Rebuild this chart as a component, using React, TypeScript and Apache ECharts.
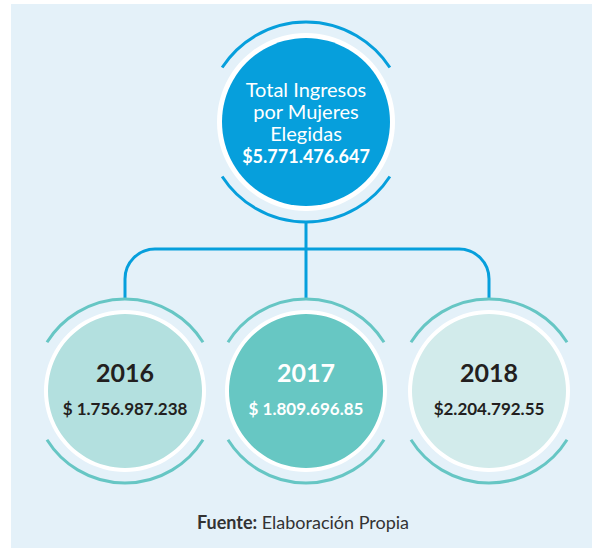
import React, { useEffect, useRef } from "react";
import * as echarts from "echarts";

const titleLines = ["Total Ingresos", "por Mujeres", "Elegidas"];
const totalLabel = "$5.771.476.647";
const years = ["2016", "2017", "2018"];
const yearValues = ["$ 1.756.987.238", "$ 1.809.696.85", "$2.204.792.55"];
const yearFills = ["#b3e0df", "#67c7c3", "#d2ebeb"];
const yearTextColors = ["#231f20", "#ffffff", "#231f20"];
const sourceBold = "Fuente:";
const sourceText = " Elaboración Propia";

const BG = "#e4f1f9";
const BLUE = "#069fdc";
const TEAL = "#66c6c4";
const FONT = "Lato, 'Noto Sans', sans-serif";

export default function App() {
  const ref = useRef<HTMLDivElement>(null);
  useEffect(() => {
    document.body.style.margin = "0";
    const chart = echarts.init(ref.current!, null, { renderer: "svg" });
    const els: any[] = [];
    els.push({ type: "rect", shape: { x: 11, y: 4, width: 581, height: 544 }, style: { fill: BG } });

    const deg = Math.PI / 180;
    const ringArcs = (cx: number, cy: number, r: number, color: string, half: number) => [
      { type: "arc", shape: { cx, cy, r, startAngle: (270 - half) * deg, endAngle: (270 + half) * deg }, style: { stroke: color, lineWidth: 3, fill: "none" } },
      { type: "arc", shape: { cx, cy, r, startAngle: (90 - half) * deg, endAngle: (90 + half) * deg }, style: { stroke: color, lineWidth: 3, fill: "none" } },
    ];

    // connectors
    const tcx = 306, tcy = 122;
    const bcy = 391;
    const bxs = [125, 306, 489];
    const hy = 249, cr = 30;
    els.push({ type: "line", shape: { x1: tcx, y1: tcy + 100, x2: tcx, y2: bcy - 92 }, style: { stroke: BLUE, lineWidth: 3 } });
    els.push({ type: "line", shape: { x1: bxs[0] + cr, y1: hy, x2: bxs[2] - cr, y2: hy }, style: { stroke: BLUE, lineWidth: 3 } });
    els.push({ type: "arc", shape: { cx: bxs[0] + cr, cy: hy + cr, r: cr, startAngle: Math.PI, endAngle: 1.5 * Math.PI }, style: { stroke: BLUE, lineWidth: 3, fill: "none" } });
    els.push({ type: "arc", shape: { cx: bxs[2] - cr, cy: hy + cr, r: cr, startAngle: 1.5 * Math.PI, endAngle: 2 * Math.PI }, style: { stroke: BLUE, lineWidth: 3, fill: "none" } });
    els.push({ type: "line", shape: { x1: bxs[0], y1: hy + cr, x2: bxs[0], y2: bcy - 92 }, style: { stroke: BLUE, lineWidth: 3 } });
    els.push({ type: "line", shape: { x1: bxs[2], y1: hy + cr, x2: bxs[2], y2: bcy - 92 }, style: { stroke: BLUE, lineWidth: 3 } });

    // top circle
    els.push(...ringArcs(tcx, tcy, 100, BLUE, 57));
    els.push({ type: "circle", shape: { cx: tcx, cy: tcy, r: 89 }, style: { fill: "#ffffff" } });
    els.push({ type: "circle", shape: { cx: tcx, cy: tcy, r: 84 }, style: { fill: BLUE } });
    titleLines.forEach((t, i) => {
      els.push({ type: "text", x: tcx, y: 89 + i * 22, style: { text: t, fill: "#ffffff", font: `400 20px ${FONT}`, align: "center", verticalAlign: "middle" } });
    });
    els.push({ type: "text", x: tcx, y: 156, style: { text: totalLabel, fill: "#ffffff", font: `700 18px ${FONT}`, align: "center", verticalAlign: "middle" } });

    // bottom circles
    years.forEach((y, i) => {
      const cx = bxs[i];
      els.push(...ringArcs(cx, bcy, 92, TEAL, 58));
      els.push({ type: "circle", shape: { cx, cy: bcy, r: 81 }, style: { fill: "#ffffff" } });
      els.push({ type: "circle", shape: { cx, cy: bcy, r: 77 }, style: { fill: yearFills[i] } });
      els.push({ type: "text", x: cx, y: 372, style: { text: y, fill: yearTextColors[i], font: `700 25px ${FONT}`, align: "center", verticalAlign: "middle" } });
      els.push({ type: "text", x: cx, y: 408, style: { text: yearValues[i], fill: yearTextColors[i], font: `700 17px ${FONT}`, align: "center", verticalAlign: "middle" } });
    });

    els.push({
      type: "text", x: 303, y: 522,
      style: {
        text: `{b|${sourceBold}}{n|${sourceText}}`, align: "center", verticalAlign: "middle",
        rich: {
          b: { fontFamily: FONT, fontWeight: 700, fontSize: 18, fill: "#333333", color: "#333333" },
          n: { fontFamily: FONT, fontWeight: 400, fontSize: 18, fill: "#333333", color: "#333333" },
        },
      },
    });

    chart.setOption({ animation: false, graphic: { elements: els } });
    return () => chart.dispose();
  }, []);
  return <div ref={ref} style={{ width: 592, height: 548, background: "#ffffff" }} />;
}
